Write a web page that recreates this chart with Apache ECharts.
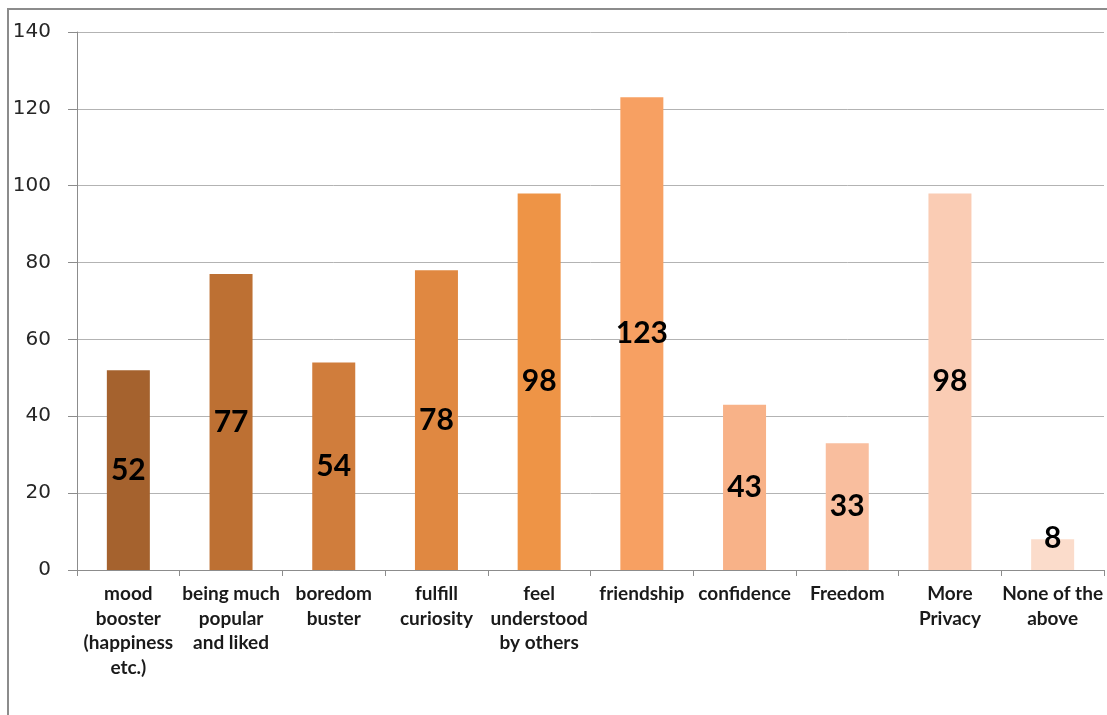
<!DOCTYPE html>
<html>
<head>
<meta charset="utf-8">
<script src="https://cdn.jsdelivr.net/npm/echarts@6/dist/echarts.min.js"></script>
<style>
  html, body { margin: 0; padding: 0; background: #fff; }
  #chart { width: 1107px; height: 715px; }
</style>
</head>
<body>
<div id="chart"></div>
<script>
// Reasons given by respondents, with counts
const categories = [
  'mood\nbooster\n(happiness\netc.)',
  'being much\npopular\nand liked',
  'boredom\nbuster',
  'fulfill\ncuriosity',
  'feel\nunderstood\nby others',
  'friendship',
  'confidence',
  'Freedom',
  'More\nPrivacy',
  'None of the\nabove'
];
const counts = [52, 77, 54, 78, 98, 123, 43, 33, 98, 8];
const barColors = [
  '#A5622E', '#BD7033', '#D07D3C', '#E08841', '#EE9446',
  '#F7A062', '#F8B288', '#F9BE9E', '#FACCB4', '#FBDCCB'
];
const yTicks = { min: 0, max: 140, interval: 20 };

const chart = echarts.init(document.getElementById('chart'));

const seriesData = counts.map((v, i) => {
  const item = { value: v, itemStyle: { color: barColors[i] } };
  // very short bars get their label lifted so it stays readable
  if (v < 15) {
    item.label = { position: 'top', distance: -14 };
  }
  return item;
});

chart.setOption({
  backgroundColor: '#ffffff',
  animation: false,
  graphic: [{
    type: 'rect',
    shape: { x: 8, y: 9, width: 1200, height: 800 },
    style: { fill: 'none', stroke: '#8c8c8c', lineWidth: 2 },
    silent: true,
    z: 10
  }],
  grid: { left: 77, right: 3, top: 32, bottom: 145, containLabel: false },
  xAxis: {
    type: 'category',
    data: categories,
    axisLine: { lineStyle: { color: '#8c8c8c', width: 1 } },
    axisTick: { show: true, length: 6, lineStyle: { color: '#8c8c8c' } },
    axisLabel: {
      interval: 0,
      margin: 12,
      fontFamily: 'Lato, "Open Sans", sans-serif',
      fontWeight: 'bold',
      fontSize: 19,
      lineHeight: 24.5,
      color: '#1a1a1a',
      align: 'center'
    }
  },
  yAxis: {
    type: 'value',
    min: yTicks.min,
    max: yTicks.max,
    interval: yTicks.interval,
    axisLine: { show: true, lineStyle: { color: '#8c8c8c', width: 1 } },
    axisTick: { show: true, length: 9, lineStyle: { color: '#8c8c8c' } },
    splitLine: { show: true, lineStyle: { color: '#b3b3b3', width: 1 } },
    axisLabel: {
      margin: 26,
      fontFamily: '"DejaVu Sans", sans-serif',
      fontSize: 20,
      color: '#262626'
    }
  },
  series: [{
    type: 'bar',
    data: seriesData,
    barWidth: 43,
    label: {
      show: true,
      position: 'inside',
      fontFamily: 'Lato, "Open Sans", sans-serif',
      fontWeight: 'bold',
      fontSize: 30,
      color: '#000000'
    }
  }]
});
</script>
</body>
</html>
